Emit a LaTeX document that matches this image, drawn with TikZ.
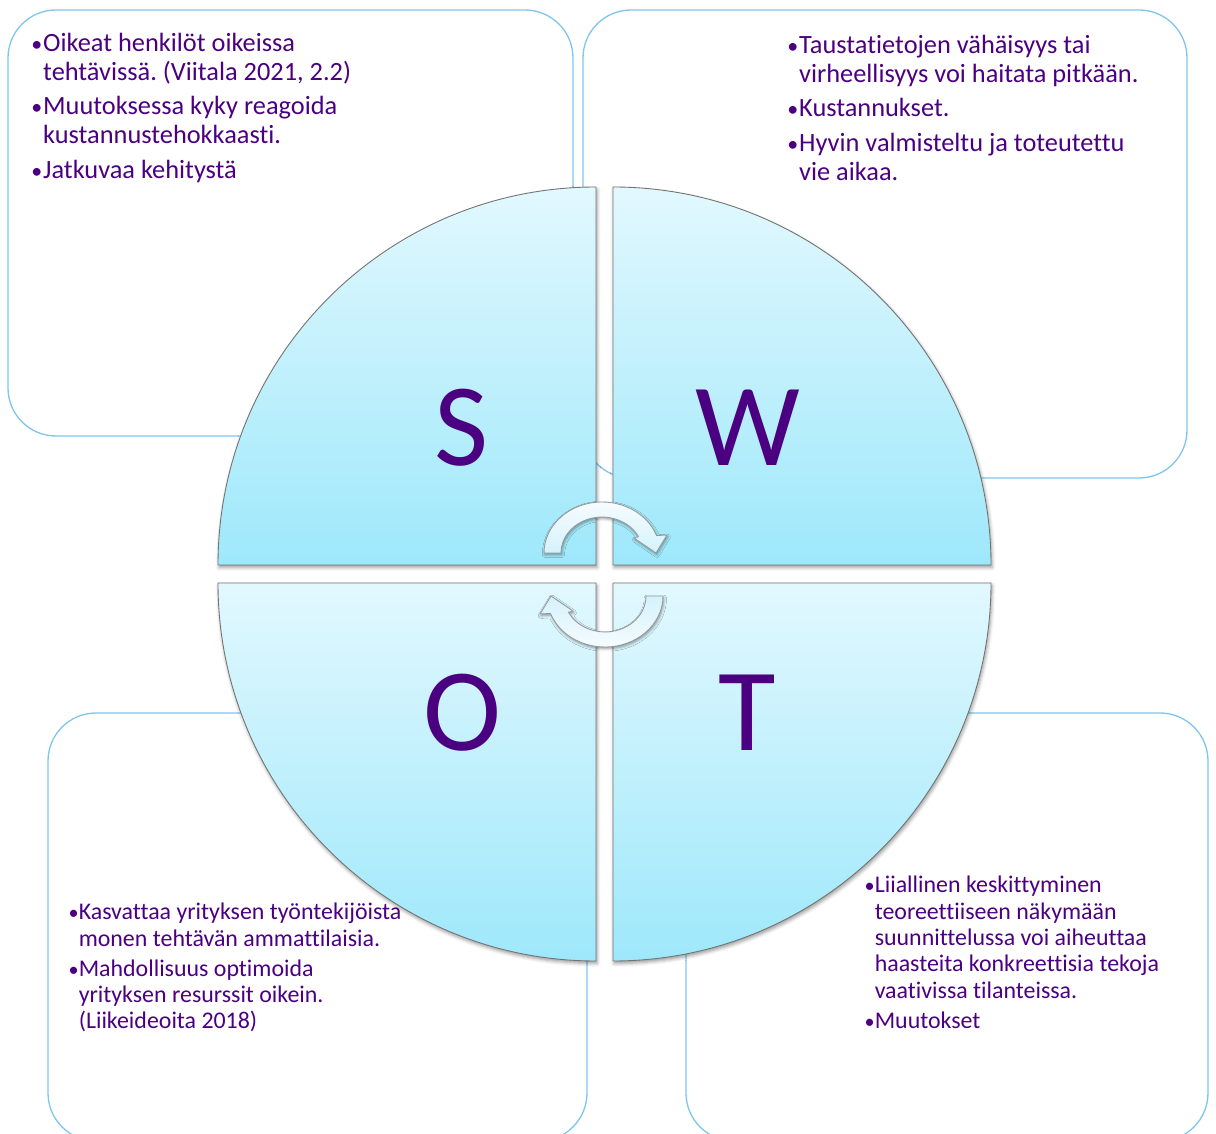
\documentclass[tikz,border=0pt]{standalone}
\usepackage{fontspec}
\setmainfont{Carlito}[Ligatures=NoCommon]
\usepackage{tikz}
\usetikzlibrary{matrix,positioning,calc,shadows.blur}
\frenchspacing

\definecolor{swotpurple}{RGB}{75,0,130}
\definecolor{boxblue}{RGB}{128,198,236}
\definecolor{quadtop}{RGB}{226,248,254}
\definecolor{quadbottom}{RGB}{158,232,251}
\definecolor{arrowtop}{RGB}{246,252,255}
\definecolor{arrowbottom}{RGB}{212,242,252}

\tikzset{
	pointbox/.style={draw=boxblue, line width=0.75pt, rounded corners=0.96cm},
	quadrant/.style={draw=black!55, line width=0.5pt, top color=quadtop, bottom color=quadbottom,
		blur shadow={shadow xshift=0.6pt, shadow yshift=-1.4pt, shadow blur radius=2pt}},
	cyclearrow/.style={draw=black!40, line width=0.5pt, top color=arrowtop, bottom color=arrowbottom,
		blur shadow={shadow xshift=0.5pt, shadow yshift=-1pt, shadow blur radius=1.5pt}},
	letter/.style={text=swotpurple, font=\fontsize{67}{67}\selectfont, inner sep=0pt, anchor=base},
	points/.style={matrix of nodes, inner sep=0pt, row sep=0pt, column sep=0pt, anchor=north west,
		nodes={inner sep=0pt, anchor=base west, text=swotpurple}},
	bigpoints/.style={points, nodes={font=\fontsize{15}{16.5}\selectfont, text height=11.5pt, text depth=5pt},
		column 1/.style={nodes={minimum width=0.25cm, font=\fontsize{12.5}{16.5}\selectfont}}},
	smallpoints/.style={points, nodes={font=\fontsize{13.6}{15}\selectfont, text height=10.5pt, text depth=4.5pt},
		column 1/.style={nodes={minimum width=0.2cm, font=\fontsize{11.5}{15}\selectfont}}}
}

\begin{document}
\begin{tikzpicture}[x=0.02cm, y=0.02cm]
	\useasboundingbox (0,0) rectangle (1216,1133);

	% text boxes behind the circle
	\draw[pointbox] (8,697) rectangle (573,1123);
	\draw[pointbox] (583,655) rectangle (1187,1123);
	\draw[pointbox] (48,-8) rectangle (587,420);
	\draw[pointbox] (686,-8) rectangle (1208,420);

	% four quarters
	\draw[quadrant] (596,568) -- (596,946) arc[start angle=90, end angle=180, radius=378] -- cycle;
	\draw[quadrant] (613,568) -- (991,568) arc[start angle=0, end angle=90, radius=378] -- cycle;
	\draw[quadrant] (596,550) -- (218,550) arc[start angle=180, end angle=270, radius=378] -- cycle;
	\draw[quadrant] (613,550) -- (613,172) arc[start angle=270, end angle=360, radius=378] -- cycle;

	\node[letter] (sLetter) at (462,667) {S};
	\node[letter] (wLetter) at (748,667) {W};
	\node[letter] (oLetter) at (462,383) {O};
	\node[letter] (tLetter) at (747,383) {T};

	% turning arrows in the middle
	\foreach \turn in {0,180}
		\draw[cyclearrow, shading angle=\turn, rotate around={\turn:(603.5,558.5)}]
			(544,580) arc[start angle=180, end angle=20, x radius=58, y radius=51]
			-- (667,598) -- (656,580) -- (634,595) -- (638.5,596.3)
			arc[start angle=27, end angle=180, x radius=41, y radius=36] -- cycle;

	\matrix (sList) [bigpoints] at (30,1102)
	{
	• & Oikeat henkilöt oikeissa \\
	  & tehtävissä. (Viitala 2021, 2.2) \\[3pt]
	• & Muutoksessa kyky reagoida \\
	  & kustannustehokkaasti. \\[3pt]
	• & Jatkuvaa kehitystä \\
	};

	\matrix (wList) [bigpoints] at (786,1100)
	{
	• & Taustatietojen vähäisyys tai \\
	  & virheellisyys voi haitata pitkään. \\[3pt]
	• & Kustannukset. \\[3pt]
	• & Hyvin valmisteltu ja toteutettu \\
	  & vie aikaa. \\
	};

	\matrix (oList) [smallpoints] at (68,232)
	{
	• & Kasvattaa yrityksen työntekijöista \\
	  & monen tehtävän ammattilaisia. \\[2pt]
	• & Mahdollisuus optimoida \\
	  & yrityksen resurssit oikein. \\
	  & (Liikeideoita 2018) \\
	};

	\matrix (tList) [smallpoints] at (864,259)
	{
	• & Liiallinen keskittyminen \\
	  & teoreettiiseen näkymään \\
	  & suunnittelussa voi aiheuttaa \\
	  & haasteita konkreettisia tekoja \\
	  & vaativissa tilanteissa. \\[2pt]
	• & Muutokset \\
	};
\end{tikzpicture}
\end{document}
